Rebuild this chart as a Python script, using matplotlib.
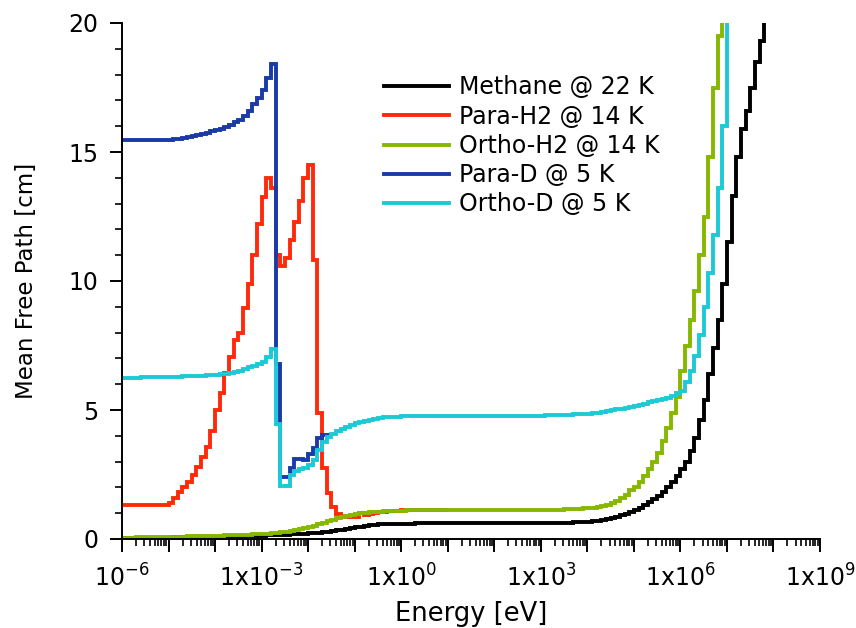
import numpy as np
import matplotlib
matplotlib.use("Agg")
import matplotlib.pyplot as plt
from matplotlib.ticker import FixedLocator, FuncFormatter

# bin edges of the tabulated spectra, 10 bins per decade from 1e-6 to 1e8 eV
energia = np.logspace(-6, 8, 141)

# Methane @ 22 K (one row per decade)
metano = [
    0.03, 0.03, 0.03, 0.04, 0.04, 0.04, 0.04, 0.05, 0.05, 0.05,
    0.05, 0.06, 0.06, 0.06, 0.07, 0.07, 0.07, 0.08, 0.08, 0.08,
    0.09, 0.09, 0.10, 0.10, 0.10, 0.11, 0.11, 0.12, 0.12, 0.13,
    0.13, 0.14, 0.15, 0.15, 0.16, 0.17, 0.18, 0.19, 0.20, 0.21,
    0.22, 0.23, 0.25, 0.26, 0.28, 0.30, 0.33, 0.36, 0.39, 0.42,
    0.45, 0.48, 0.51, 0.54, 0.56, 0.57, 0.58, 0.59, 0.60, 0.60,
    0.60, 0.60, 0.60, 0.61, 0.61, 0.61, 0.61, 0.61, 0.61, 0.61,
    0.61, 0.61, 0.61, 0.61, 0.61, 0.61, 0.61, 0.61, 0.61, 0.61,
    0.61, 0.61, 0.61, 0.61, 0.61, 0.61, 0.61, 0.61, 0.61, 0.61,
    0.61, 0.61, 0.62, 0.62, 0.62, 0.63, 0.63, 0.64, 0.65, 0.66,
    0.67, 0.69, 0.71, 0.74, 0.77, 0.81, 0.86, 0.92, 0.98, 1.05,
    1.12, 1.20, 1.30, 1.42, 1.55, 1.68, 1.82, 2.00, 2.20, 2.45,
    2.70, 3.00, 3.40, 3.90, 4.60, 5.40, 6.40, 7.40, 8.50, 9.90,
    11.5, 13.3, 14.8, 15.9, 16.6, 17.5, 18.5, 19.3, 22.0, 24.0,
]

# Para-H2 @ 14 K (tabulated up to 10 eV)
para_h2 = [
    1.32, 1.32, 1.32, 1.32, 1.32, 1.32, 1.32, 1.32, 1.32, 1.32,
    1.40, 1.60, 1.83, 2.03, 2.22, 2.48, 2.80, 3.19, 3.58, 4.20,
    5.00, 5.65, 6.42, 7.07, 7.70, 8.00, 8.95, 9.90, 11.0, 12.2,
    13.27, 13.98, 13.60, 11.0, 10.6, 10.9, 11.6, 12.3, 13.1, 14.0,
    14.5, 10.8, 4.90, 2.75, 1.80, 1.25, 0.95, 0.88, 0.86, 0.86,
    0.86, 1.00, 0.94, 0.97, 1.00, 1.03, 1.05, 1.07, 1.08, 1.10,
    1.11, 1.12, 1.13, 1.13, 1.13, 1.13, 1.13, 1.13, 1.13, 1.13,
]

# Ortho-H2 @ 14 K
orto_h2 = [
    0.05, 0.05, 0.05, 0.06, 0.06, 0.06, 0.07, 0.07, 0.07, 0.08,
    0.08, 0.08, 0.09, 0.09, 0.10, 0.10, 0.11, 0.11, 0.12, 0.12,
    0.13, 0.13, 0.14, 0.14, 0.15, 0.15, 0.16, 0.17, 0.18, 0.19,
    0.20, 0.21, 0.23, 0.25, 0.27, 0.29, 0.32, 0.35, 0.39, 0.43,
    0.47, 0.52, 0.57, 0.63, 0.69, 0.75, 0.81, 0.86, 0.90, 0.94,
    0.97, 0.99, 1.01, 1.03, 1.05, 1.06, 1.07, 1.08, 1.09, 1.10,
    1.10, 1.11, 1.11, 1.12, 1.12, 1.12, 1.12, 1.12, 1.12, 1.12,
    1.12, 1.12, 1.12, 1.12, 1.12, 1.12, 1.12, 1.12, 1.12, 1.12,
    1.12, 1.12, 1.12, 1.12, 1.12, 1.12, 1.12, 1.12, 1.12, 1.12,
    1.12, 1.12, 1.13, 1.13, 1.14, 1.15, 1.16, 1.17, 1.18, 1.19,
    1.20, 1.22, 1.25, 1.29, 1.33, 1.40, 1.48, 1.60, 1.72, 1.88,
    2.00, 2.20, 2.45, 2.70, 3.00, 3.35, 3.80, 4.30, 4.90, 5.50,
    6.50, 7.50, 8.50, 9.60, 11.0, 12.5, 14.8, 17.5, 19.5, 24.0,
    26.0, 28.0, 30.0, 32.0, 34.0, 36.0, 38.0, 40.0, 42.0, 44.0,
]

# Para-D @ 5 K (tabulated up to ~0.03 eV, merges with ortho-D above)
para_d = [
    15.47, 15.47, 15.47, 15.47, 15.47, 15.47, 15.47, 15.47, 15.47, 15.47,
    15.48, 15.50, 15.52, 15.55, 15.58, 15.61, 15.65, 15.70, 15.75, 15.80,
    15.86, 15.90, 15.97, 16.05, 16.15, 16.24, 16.40, 16.60, 16.85, 17.10,
    17.40, 17.85, 18.40, 6.80, 2.41, 2.41, 2.75, 3.10, 3.10, 3.05,
    3.30, 3.52, 3.90, 4.03, 4.05,
]

# Ortho-D @ 5 K
orto_d = [
    6.25, 6.25, 6.25, 6.25, 6.26, 6.26, 6.26, 6.27, 6.27, 6.28,
    6.28, 6.29, 6.29, 6.30, 6.30, 6.31, 6.32, 6.33, 6.34, 6.35,
    6.36, 6.38, 6.41, 6.44, 6.48, 6.52, 6.58, 6.65, 6.72, 6.80,
    6.87, 7.07, 7.35, 4.45, 2.05, 2.05, 2.50, 2.65, 2.70, 2.75,
    2.87, 3.06, 3.45, 3.77, 3.97, 4.08, 4.18, 4.26, 4.34, 4.42,
    4.48, 4.54, 4.59, 4.63, 4.66, 4.69, 4.71, 4.72, 4.73, 4.74,
    4.75, 4.75, 4.76, 4.76, 4.76, 4.77, 4.77, 4.77, 4.77, 4.77,
    4.77, 4.77, 4.77, 4.77, 4.77, 4.77, 4.77, 4.77, 4.77, 4.77,
    4.77, 4.77, 4.77, 4.77, 4.77, 4.78, 4.78, 4.78, 4.78, 4.78,
    4.78, 4.79, 4.79, 4.80, 4.80, 4.81, 4.82, 4.83, 4.84, 4.86,
    4.86, 4.88, 4.90, 4.93, 4.96, 4.99, 5.02, 5.05, 5.08, 5.12,
    5.15, 5.20, 5.25, 5.30, 5.34, 5.38, 5.42, 5.48, 5.55, 5.64,
    5.75, 6.10, 6.50, 7.10, 7.90, 9.00, 10.3, 11.8, 13.6, 16.0,
    22.0, 24.0, 26.0, 28.0, 30.0, 32.0, 34.0, 36.0, 38.0, 40.0,
]

series = [
    ("Methane @ 22 K", metano, "#000000"),
    ("Para-H2 @ 14 K", para_h2, "#ff2a0a"),
    ("Ortho-H2 @ 14 K", orto_h2, "#86b800"),
    ("Para-D @ 5 K", para_d, "#1a3aa8"),
    ("Ortho-D @ 5 K", orto_d, "#1ccad6"),
]

plt.rcParams['font.family'] = ['DejaVu Sans']
plt.rcParams['mathtext.default'] = 'regular'

fig = plt.figure(figsize=(8.56, 6.28), dpi=100)
ax = fig.add_axes([122 / 856, 1 - 539 / 628, (820 - 122) / 856, (539 - 23) / 628])

for nombre, valores, color in series:
    n = len(valores)
    ax.stairs(valores, energia[:n + 1], baseline=None, color=color,
              linewidth=2.8, label=nombre)

ax.set_xscale('log')
ax.set_xlim(1e-6, 1e9)
ax.set_ylim(0, 20)

decadas = 10.0 ** np.arange(-6, 10)
ax.xaxis.set_major_locator(FixedLocator(decadas))
menores = [m * d for d in decadas[:-1] for m in range(2, 10)]
ax.xaxis.set_minor_locator(FixedLocator(menores))


def etiqueta_x(v, pos):
    e = int(round(np.log10(v)))
    if e % 3 != 0:
        return ''
    if e == -6:
        return r'$10^{-6}$'
    return r'$1\mathrm{x}10^{%d}$' % e


ax.xaxis.set_major_formatter(FuncFormatter(etiqueta_x))
ax.set_yticks([0, 5, 10, 15, 20])
ax.yaxis.set_minor_locator(FixedLocator(np.arange(0, 21, 1)))

ax.tick_params(axis='both', which='major', direction='out', length=9, width=1.4,
               labelsize=17)
ax.tick_params(axis='both', which='minor', direction='out', length=5, width=1.2)
ax.tick_params(axis='x', which='major', pad=9)
ax.tick_params(axis='y', which='major', pad=8)

for lado in ['top', 'right']:
    ax.spines[lado].set_visible(False)
for lado in ['left', 'bottom']:
    ax.spines[lado].set_linewidth(1.4)

ax.set_xlabel('Energy [eV]', fontsize=18.5, labelpad=7)
ax.set_ylabel('Mean Free Path [cm]', fontsize=16.5, labelpad=22)

ax.legend(loc='upper left', bbox_to_anchor=(375 / 856, 1 - 66 / 628),
          bbox_transform=fig.transFigure, frameon=False, fontsize=17,
          handlelength=2.75, handletextpad=0.42, labelspacing=0.22,
          borderaxespad=0)

fig.savefig('out.png', dpi=100)
